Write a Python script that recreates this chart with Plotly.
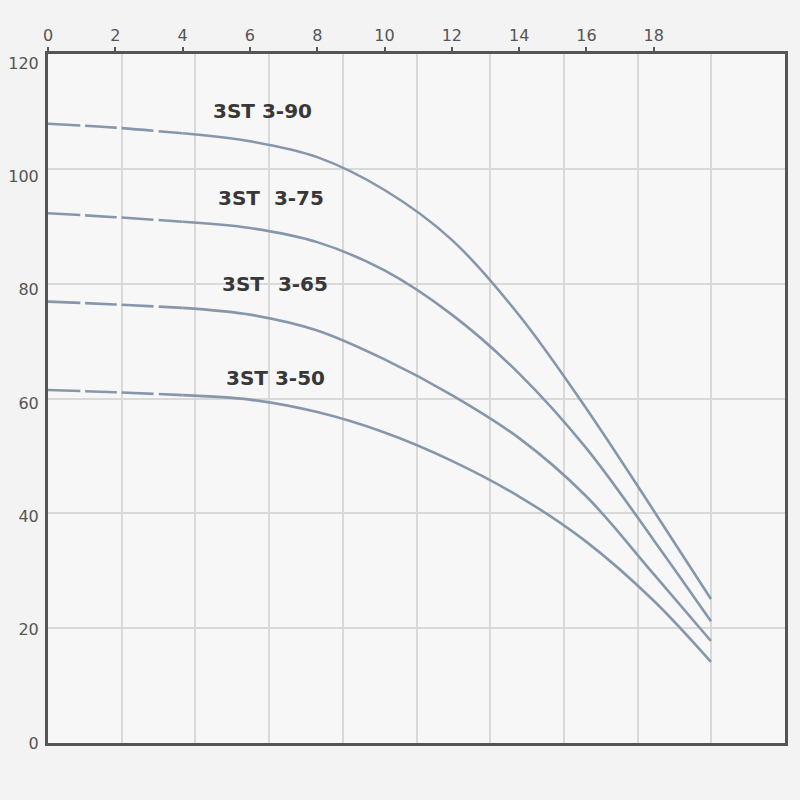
import plotly.graph_objects as go

# Flow (x) and head (y) values
x_flow = [0, 2, 4, 6, 8, 10, 12, 14, 16, 18, 19.7]
h_3_90 = [109.3, 108.6, 107.6, 106.2, 103.4, 97.6, 88.8, 75.5, 59.0, 41.0, 25.4]
h_3_75 = [93.5, 92.8, 92.0, 90.9, 88.4, 83.4, 75.6, 65.2, 52.0, 35.8, 21.5]
h_3_65 = [77.9, 77.4, 76.8, 75.6, 72.8, 67.7, 61.4, 53.8, 43.5, 29.8, 18.0]
h_3_50 = [62.3, 61.9, 61.4, 60.6, 58.4, 54.8, 49.8, 43.5, 35.5, 25.1, 14.3]

series_names = ["3ST 3-90", "3ST  3-75", "3ST  3-65", "3ST 3-50"]
series_values = [h_3_90, h_3_75, h_3_65, h_3_50]
label_x = [6.36, 6.63, 6.75, 6.77]
label_y = [111.5, 96.2, 81.0, 64.4]

x_ticks = [0, 2, 4, 6, 8, 10, 12, 14, 16, 18]
y_ticks = [0, 20, 40, 60, 80, 100, 120]

line_color = "#8797ab"
n_dash = 3  # points in the dashed leading segment

fig = go.Figure()
for name, vals in zip(series_names, series_values):
    fig.add_trace(go.Scatter(
        x=x_flow[:n_dash], y=vals[:n_dash], mode="lines",
        line=dict(color=line_color, width=2.6, dash="32px,5px",
                  shape="spline", smoothing=1.0),
        showlegend=False, hoverinfo="skip"))
    fig.add_trace(go.Scatter(
        x=x_flow[n_dash - 1:], y=vals[n_dash - 1:], mode="lines", name=name,
        line=dict(color=line_color, width=2.6, shape="spline", smoothing=1.0),
        showlegend=False))

for name, lx, ly in zip(series_names, label_x, label_y):
    fig.add_annotation(x=lx, y=ly, text=f"<b>{name}</b>", showarrow=False,
                       font=dict(family="DejaVu Sans", size=20, color="#383838"),
                       xanchor="center", yanchor="middle")

x_max = 21.9
y_max = 121.6

fig.update_layout(
    width=784, height=784,
    margin=dict(l=40, r=7, t=46, b=49),
    paper_bgcolor="#f3f3f3",
    plot_bgcolor="#f7f7f7",
    font=dict(family="DejaVu Sans", size=16, color="#555555"),
    xaxis=dict(
        side="top", range=[0, x_max], tickmode="array", tickvals=x_ticks,
        ticktext=[str(v) for v in x_ticks], automargin=False,
        showgrid=False, zeroline=False,
        showline=True, linecolor="#555555", linewidth=3, mirror=True,
        ticks="outside", ticklen=4, tickwidth=1.5, tickcolor="#555555",
        tickfont=dict(family="DejaVu Sans", size=16, color="#555555"),
        minor=dict(tick0=0, dtick=x_max / 10, showgrid=True,
                   gridcolor="#d9d9d9", gridwidth=1.5, ticks=""),
    ),
    yaxis=dict(
        range=[0, y_max], tickmode="array", tickvals=y_ticks,
        ticktext=[str(v) for v in y_ticks], automargin=False,
        showgrid=False, zeroline=False,
        showline=True, linecolor="#555555", linewidth=3, mirror=True,
        ticks="", ticklabelstandoff=3,
        tickfont=dict(family="DejaVu Sans", size=16, color="#555555"),
        minor=dict(tick0=0, dtick=y_max / 6, showgrid=True,
                   gridcolor="#d9d9d9", gridwidth=1.5, ticks=""),
    ),
)

fig.write_html("out.html",
               post_script="document.body.style.background='#f3f3f3';")
